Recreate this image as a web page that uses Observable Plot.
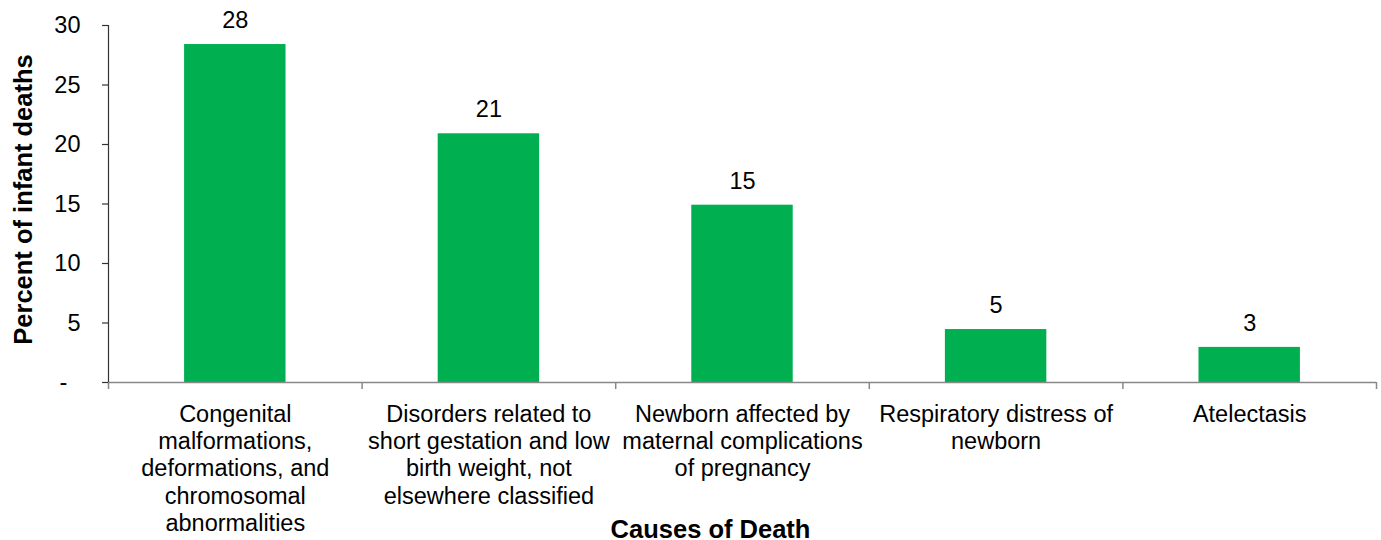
<!DOCTYPE html>
<html>
<head>
<meta charset="utf-8">
<script src="https://cdn.jsdelivr.net/npm/d3@7"></script>
<script src="https://cdn.jsdelivr.net/npm/@observablehq/plot@0.6"></script>
<style>
  html, body { margin: 0; padding: 0; background: #fff; }
  svg { display: block; }
</style>
</head>
<body>
<div id="chart"></div>
<script>
const categories = [
  "Congenital\nmalformations,\ndeformations, and\nchromosomal\nabnormalities",
  "Disorders related to\nshort gestation and low\nbirth weight, not\nelsewhere classified",
  "Newborn affected by\nmaternal complications\nof pregnancy",
  "Respiratory distress of\nnewborn",
  "Atelectasis"
];
const values = [28.4, 20.9, 14.9, 4.45, 2.95];
const valueLabels = ["28", "21", "15", "5", "3"];
const yTicks = [0, 5, 10, 15, 20, 25, 30];
const yTickLabels = ["-\u00a0\u00a0", "5", "10", "15", "20", "25", "30"];
const xTitle = "Causes of Death";
const yTitle = "Percent of infant deaths";

const data = categories.map((c, i) => ({ category: c, value: values[i], label: valueLabels[i], pos: i }));
const boundaries = d3.range(categories.length + 1);

const font = "'Liberation Sans', Arial, Helvetica, sans-serif";

const chart = Plot.plot({
  width: 1381,
  height: 540,
  marginLeft: 108,
  marginRight: 5,
  marginTop: 25,
  marginBottom: 158,
  style: { fontFamily: font, fontSize: "23.5px", color: "#000", background: "#fff", overflow: "visible" },
  x: { type: "linear", domain: [0, categories.length], axis: null },
  y: { domain: [0, 30], axis: null },
  marks: [
    Plot.rectY(data, { x1: d => d.pos + 0.3, x2: d => d.pos + 0.7, y1: 0, y2: "value", fill: "#00B050" }),
    Plot.axisX({ ticks: boundaries, tickSize: 7, tickFormat: () => "", stroke: "#888", strokeWidth: 1.5, label: null }),
    Plot.ruleY([0], { stroke: "#888", strokeWidth: 1.5 }),
    Plot.axisY({ ticks: yTicks, tickSize: 6, tickPadding: 22, tickFormat: d => yTickLabels[yTicks.indexOf(d)], stroke: "#333", strokeWidth: 1.2, fontSize: 23.5, label: null }),
    Plot.ruleX([0], { stroke: "#333", strokeWidth: 1.2 }),
    Plot.text(data, { x: d => d.pos + 0.5, y: "value", text: "label", lineAnchor: "bottom", dy: -16.5, fontSize: 23.5, fill: "#000" }),
    Plot.text(data, { x: d => d.pos + 0.5, y: 0, text: "category", lineAnchor: "top", dy: 20, lineHeight: 1.16, fontSize: 23.5, fill: "#000" }),
    Plot.text([xTitle], { frameAnchor: "bottom", textAnchor: "middle", dx: -32, dy: 155, lineAnchor: "bottom", fontWeight: "bold", fontSize: 25.5, fill: "#000" }),
    Plot.text([yTitle], { frameAnchor: "left", textAnchor: "middle", rotate: -90, dx: -85, dy: -4.5, fontWeight: "bold", fontSize: 25.5, fill: "#000" })
  ]
});
document.getElementById("chart").append(chart);
</script>
</body>
</html>
